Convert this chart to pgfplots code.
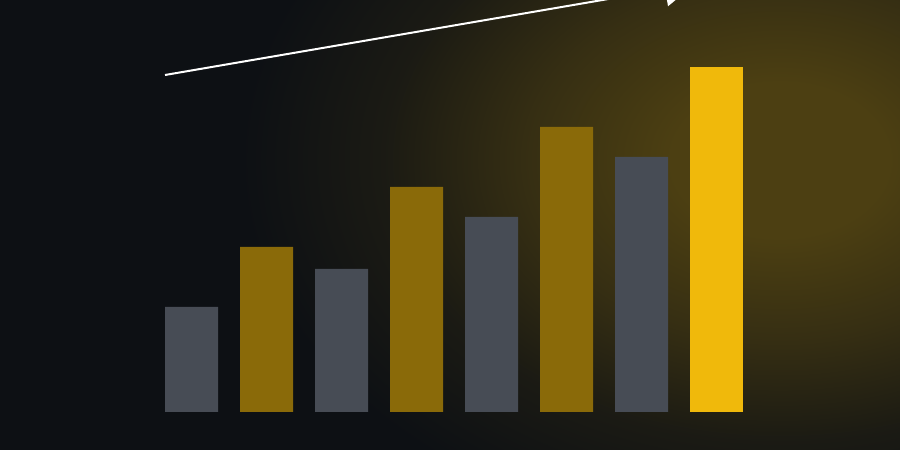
\documentclass[border=0pt]{standalone}
\usepackage{pgfplots}
\pgfplotsset{compat=1.18}
\usetikzlibrary{arrows.meta}

\definecolor{bg}{HTML}{0D1014}
\definecolor{glowc}{RGB}{76,63,18}
\definecolor{barGray}{HTML}{474C55}
\definecolor{barGold}{HTML}{8A6A09}
\definecolor{barBright}{HTML}{F0B90B}

\pgfdeclareradialshading{glow}{\pgfpoint{0bp}{0bp}}{%
  color(0bp)=(glowc); color(3bp)=(glowc); color(7bp)=(glowc!65!bg);
  color(11bp)=(glowc!22!bg); color(15bp)=(bg); color(50bp)=(bg)}

\begin{document}
\begin{tikzpicture}[x=1pt,y=1pt]
\clip (0,0) rectangle (900,450);
\fill[bg] (0,0) rectangle (900,450);
\shade[shading=glow] (780,290) ellipse [x radius=900, y radius=640];
\begin{axis}[
    at={(0,0)}, anchor=south west,
    scale only axis,
    width=900pt, height=450pt,
    xmin=-2.5533, xmax=9.4467,
    ymin=-38, ymax=412,
    hide axis,
]
% grey bars
\addplot[ybar, bar width=53pt, bar shift=0pt, fill=barGray, draw=none]
    coordinates {(0,105)(2,143)(4,195)(6,255)};
% dim gold bars
\addplot[ybar, bar width=53pt, bar shift=0pt, fill=barGold, draw=none]
    coordinates {(1,165)(3,225)(5,285)};
% highlighted last bar
\addplot[ybar, bar width=53pt, bar shift=0pt, fill=barBright, draw=none]
    coordinates {(7,345)};
% trend arrow
\addplot[white, line width=2pt, -{Triangle[width=34pt,length=30pt]}]
    coordinates {(-0.3533,337)(6.709,427.8)};
\end{axis}
\end{tikzpicture}
\end{document}
